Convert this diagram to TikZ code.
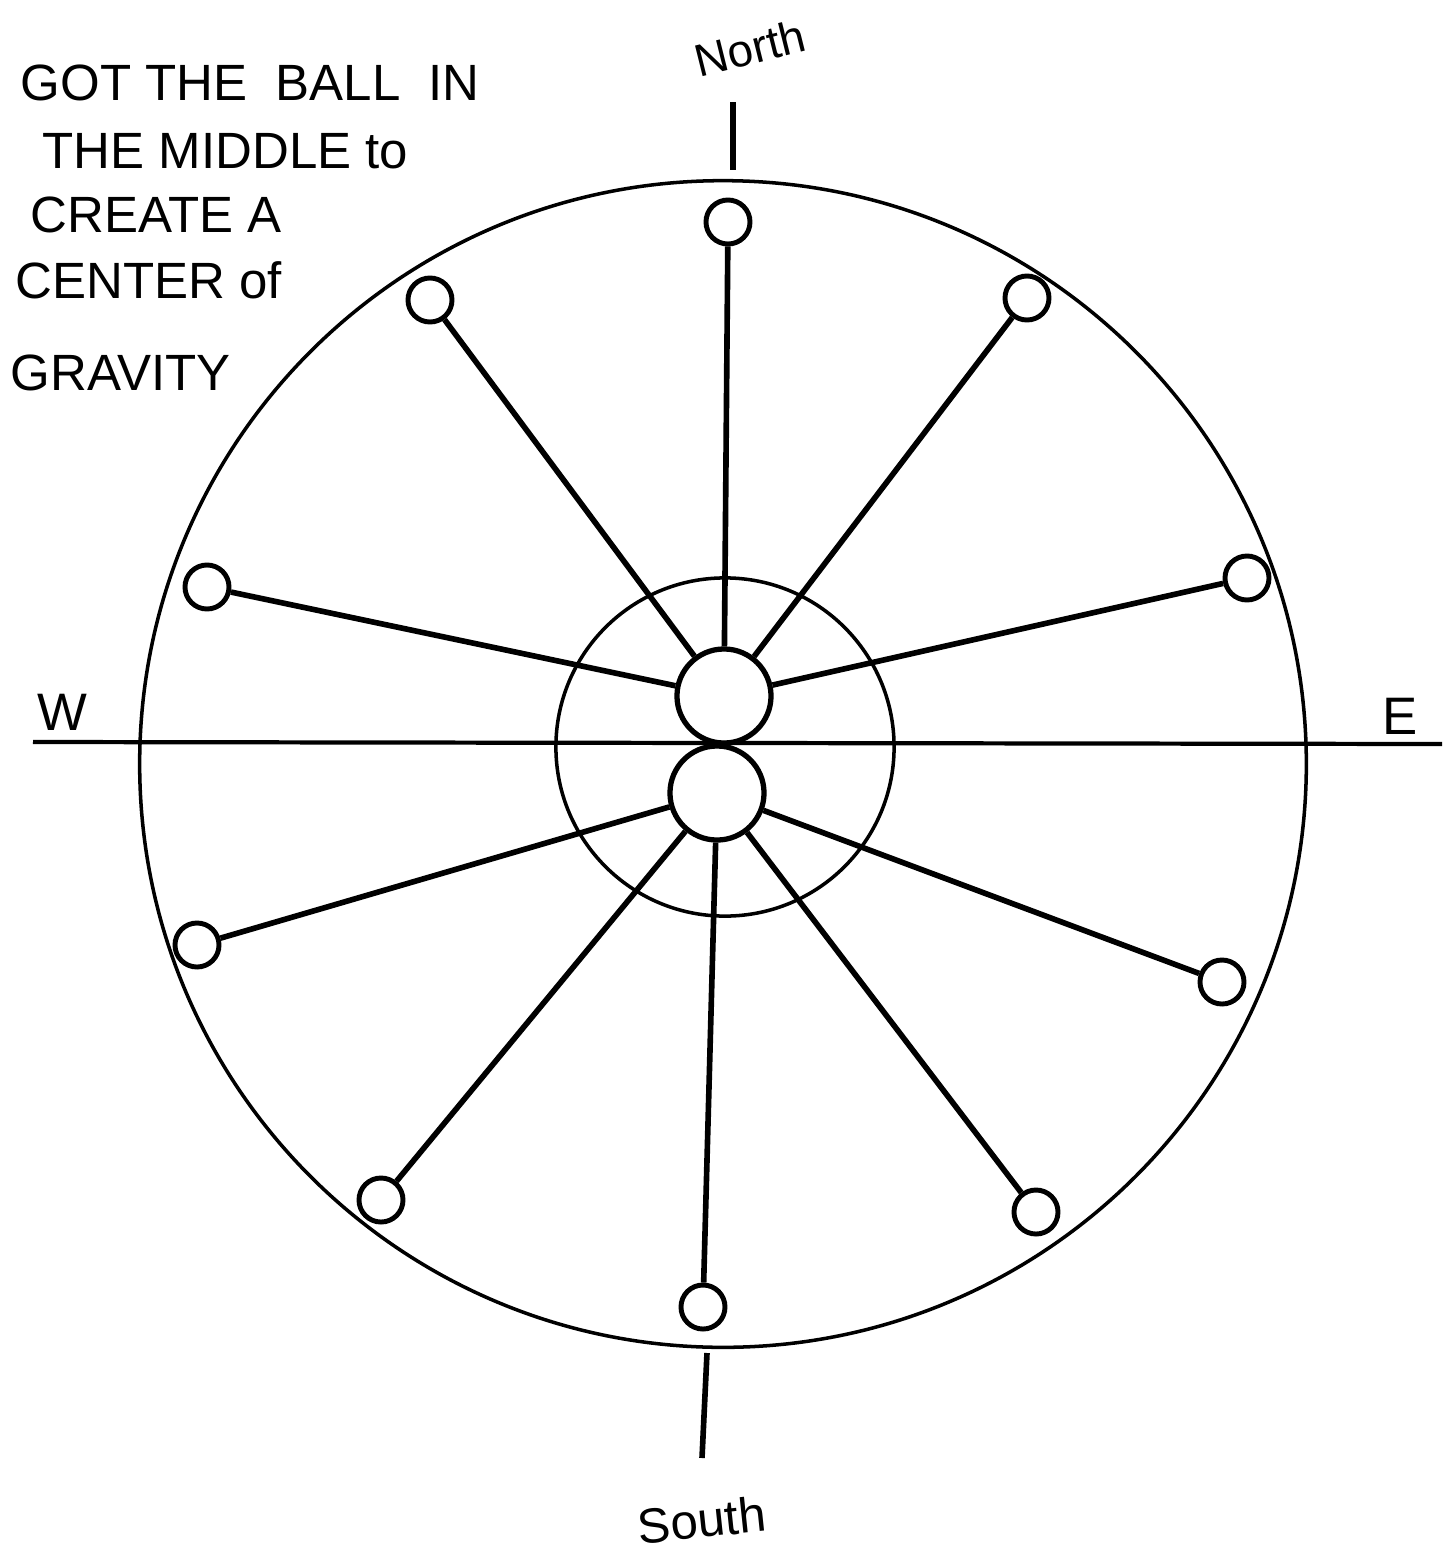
\documentclass[tikz,border=0pt]{standalone}
\usepackage{fontspec}
\setmainfont{Liberation Sans}
\begin{document}
\begin{tikzpicture}[x=0.01cm,y=-0.01cm,
  thinline/.style={line width=1.0pt},
  spoke/.style={line width=1.6pt},
  smallball/.style={circle,draw,line width=1.4pt,minimum size=0.44cm,inner sep=0pt},
  bigball/.style={circle,draw,line width=1.5pt,minimum size=0.94cm,inner sep=0pt},
  hand/.style={font=\fontsize{14.5}{14.5}\selectfont,anchor=base west,inner sep=0pt},
  label/.style={font=\fontsize{15}{15}\selectfont,inner sep=0pt}]
\useasboundingbox (0,0) rectangle (1451,1557);
% outer and inner circles
\draw[thinline] (723,764) circle[radius=5.83cm];
\draw[thinline] (725,747) circle[radius=1.69cm];
% axes
\coordinate (wend) at (33,742);
\coordinate (eend) at (1442,744);
\draw[line width=1.2pt] (wend) -- (eend);
\coordinate (ntop) at (733,102);
\coordinate (nbot) at (733,170);
\draw[spoke] (ntop) -- (nbot);
\coordinate (stop) at (707,1353);
\coordinate (sbot) at (702,1458);
\draw[spoke] (stop) -- (sbot);
% central balls
\node[bigball] (ub) at (724,696) {};
\node[bigball] (lb) at (717,793) {};
% outer small balls
\node[smallball] (n)  at (728,222) {};
\node[smallball] (nw) at (430,300) {};
\node[smallball] (ne) at (1027,298) {};
\node[smallball] (w)  at (207,587) {};
\node[smallball] (e)  at (1247,578) {};
\node[smallball] (sw) at (197,945) {};
\node[smallball] (se) at (1222,982) {};
\node[smallball] (ssw) at (381,1200) {};
\node[smallball] (sse) at (1036,1212) {};
\node[smallball] (s)  at (703,1307) {};
% spokes
\draw[spoke] (n) -- (ub);
\draw[spoke] (nw) -- (ub);
\draw[spoke] (ne) -- (ub);
\draw[spoke] (w) -- (ub);
\draw[spoke] (e) -- (ub);
\draw[spoke] (sw) -- (lb);
\draw[spoke] (se) -- (lb);
\draw[spoke] (ssw) -- (lb);
\draw[spoke] (sse) -- (lb);
\draw[spoke] (s) -- (lb);
% labels
\node[label,font=\fontsize{13}{13}\selectfont,rotate=14] (north) at (750,48) {North};
\node[label,font=\fontsize{14}{14}\selectfont,rotate=6] (south) at (702,1520) {South};
\node[label] (wlab) at (62,712) {W};
\node[label] (elab) at (1400,716) {E};
% handwritten note
\node[hand] (t1) at (20,100) {GOT THE \ BALL \ IN};
\node[hand] (t2) at (42,168) {THE MIDDLE to};
\node[hand] (t3) at (30,232) {CREATE A};
\node[hand] (t4) at (15,298) {CENTER of};
\node[hand] (t5) at (10,390) {GRAVITY};
\end{tikzpicture}
\end{document}
